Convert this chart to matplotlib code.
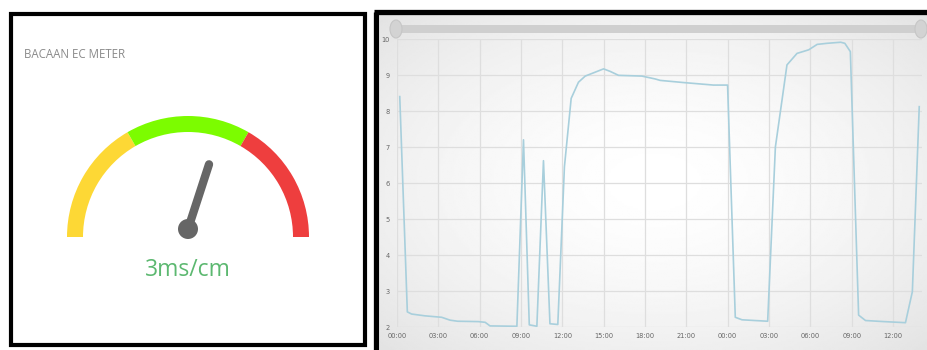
import numpy as np
import matplotlib
matplotlib.use('Agg')
import matplotlib.pyplot as plt
from matplotlib.patches import Wedge, Circle, Ellipse, Rectangle

# gauge
gauge_title = 'BACAAN EC METER'
gauge_min, gauge_max = 0, 5
gauge_value = 3
gauge_unit = 'ms/cm'
band_edges = [0, 5 / 3, 10 / 3, 5]
band_colors = ['#fdd835', '#7cfc00', '#ee3e3e']

# EC history (hours from 00:00 of day 1)
hours = [0.2, 0.75, 1.06, 2.03, 3.24, 3.85, 4.4, 5.9, 6.4, 6.75, 8.7,
         9.18, 9.6, 10.15, 10.63, 11.1, 11.67, 12.15, 12.64, 13.17, 13.66,
         14.26, 14.99, 15.47, 16.08, 17.77, 18.74, 19.1, 20.8, 22.97, 23.99,
         24.55, 25.04, 26.9, 27.46, 27.94, 28.3, 29.03, 29.88, 30.49, 31.2,
         32.2, 32.5, 32.9, 33.5, 34.0, 35.33, 36.9, 37.4, 37.9]
ec = [8.4, 2.42, 2.36, 2.31, 2.27, 2.19, 2.16, 2.15, 2.13, 2.03, 2.02,
      7.2, 2.06, 2.02, 6.62, 2.09, 2.07, 6.45, 8.35, 8.8, 8.97,
      9.06, 9.17, 9.1, 8.99, 8.97, 8.89, 8.85, 8.79, 8.72, 8.72,
      2.27, 2.2, 2.16, 7.0, 8.3, 9.28, 9.6, 9.7, 9.85, 9.88,
      9.91, 9.88, 9.65, 2.33, 2.18, 2.15, 2.12, 2.98, 8.12]
xtick_hours = list(range(0, 39, 3))
xtick_labels = ['00:00', '03:00', '06:00', '09:00', '12:00', '15:00', '18:00',
                '21:00', '00:00', '03:00', '06:00', '09:00', '12:00']
yticks = [2, 3, 4, 5, 6, 7, 8, 9, 10]

W, H = 928, 350
fig = plt.figure(figsize=(W / 100, H / 100), dpi=100)
fig.patch.set_facecolor('white')


def fx(px):
    return px / W


def fy(py):
    return 1 - py / H


# gradient background for the right panel
gx0, gx1, gy0, gy1 = 380, 928, 14, 350
gax = fig.add_axes([fx(gx0), fy(gy1), fx(gx1 - gx0), (gy1 - gy0) / H])
yy, xx = np.mgrid[-1:1:200j, -1:1:300j]
r = np.sqrt(xx ** 2 + yy ** 2) / np.sqrt(2)
gax.imshow(1 - 0.11 * r ** 1.6, cmap='gray', vmin=0, vmax=1, aspect='auto',
           extent=[0, 1, 0, 1])
gax.set_axis_off()

# overlay axes in pixel coordinates (y up)
bg = fig.add_axes([0, 0, 1, 1])
bg.set_xlim(0, W)
bg.set_ylim(0, H)
bg.set_axis_off()
bg.patch.set_alpha(0)


def py(y):
    return H - y


# left panel border
bg.add_patch(Rectangle((11.5, py(344.5)), 353.5, 331, fill=False,
                       ec='black', lw=3.0))
# right panel border (left + top edges)
bg.plot([376.5, 376.5], [py(12), py(352)], color='black', lw=3.8,
        solid_capstyle='butt')
bg.plot([374.5, 930], [py(12), py(12)], color='black', lw=3.8,
        solid_capstyle='butt')

bg.text(24, py(55), gauge_title, fontsize=8.3, color='#8a8a8a',
        family=['Open Sans', 'DejaVu Sans'], va='center', ha='left')

cx, cy = 188, py(237)
span = gauge_max - gauge_min
for lo, hi, col in zip(band_edges[:-1], band_edges[1:], band_colors):
    t1 = 180 - 180 * (hi - gauge_min) / span
    t2 = 180 - 180 * (lo - gauge_min) / span
    bg.add_patch(Wedge((cx, cy), 121, t1, t2, width=16, color=col, lw=0))

ang = np.radians(180 - 180 * (gauge_value - gauge_min) / span)
pcx, pcy = 188, py(229)
nl = 68
bg.plot([pcx, pcx + nl * np.cos(ang)], [pcy, pcy + nl * np.sin(ang)],
        color='#666666', lw=6.0, solid_capstyle='round')
bg.add_patch(Circle((pcx, pcy), 10, color='#666666', lw=0))
bg.text(188, py(270), f'{gauge_value}{gauge_unit}', fontsize=16.5,
        color='#5cb870', family=['Open Sans', 'DejaVu Sans'],
        ha='center', va='center')

# slider on top of the line chart
bg.add_patch(Rectangle((397, py(33)), 524, 8, color='#cfcfcf', lw=0))
for hx in (396, 921):
    bg.add_patch(Ellipse((hx, py(29)), 12, 18, fc='#d3d3d3', ec='#c6c6c6',
                         lw=0.8))

# line chart
ax = fig.add_axes([fx(397), fy(327), fx(922 - 397), (327 - 39) / H])
ax.patch.set_alpha(0)
ax.plot(hours, ec, color='#a8cfdc', lw=1.2)
ax.set_xlim(0, 38.1)
ax.set_ylim(2, 10)
ax.set_xticks(xtick_hours)
ax.set_xticklabels(xtick_labels)
ax.set_yticks(yticks)
ax.grid(True, color='#dedede', lw=0.9)
ax.set_axisbelow(True)
for s in ax.spines.values():
    s.set_visible(False)
ax.tick_params(length=0, labelsize=4.8, labelcolor='#666666', pad=4)
ax.tick_params(axis='y', pad=5)

fig.savefig('out.png', dpi=100)
